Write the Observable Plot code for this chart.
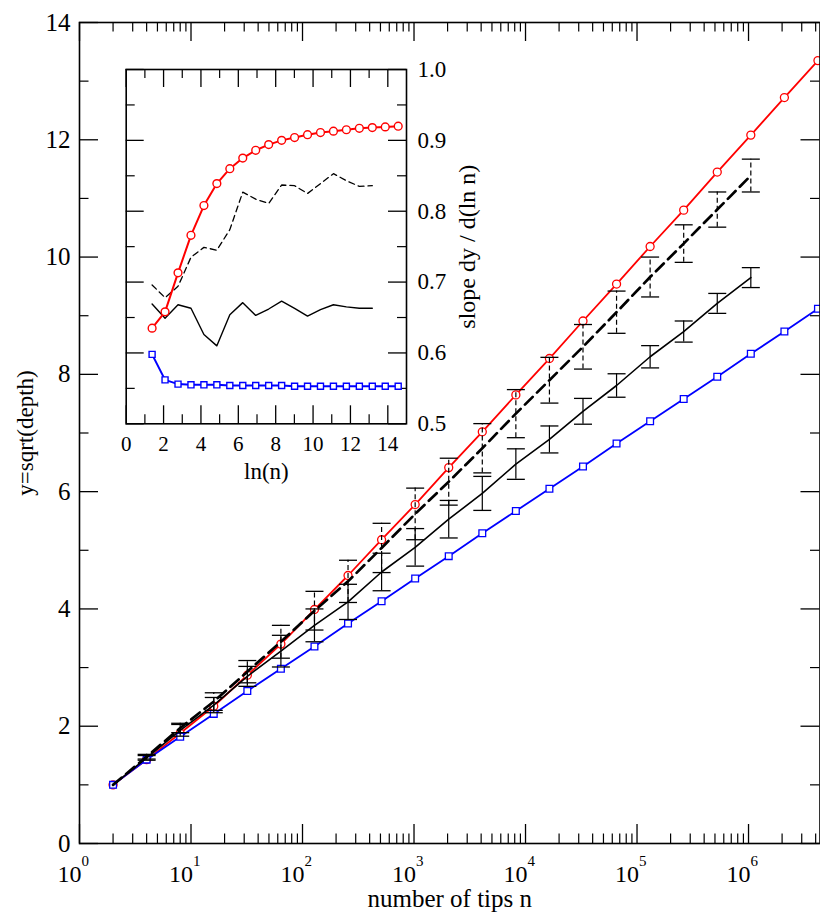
<!DOCTYPE html>
<html><head><meta charset="utf-8">
<script src="https://cdn.jsdelivr.net/npm/d3@7"></script>
<script src="https://cdn.jsdelivr.net/npm/@observablehq/plot@0.6"></script>
<style>
html,body{margin:0;padding:0;background:#fff;}
#wrap{position:relative;width:820px;height:914px;overflow:hidden;background:#fff;}
#inset{position:absolute;left:100px;top:50px;}
</style></head><body>
<div id="wrap"><div id="main"></div><div id="inset"></div></div>
<script>
// ---------- data (main plot) ----------
const nTips = [2,4,8,16,32,64,128,256,512,1024,2048,4096,8192,16384,32768,65536,131072,262144,524288,1048576,2097152,4194304];
const redY  = [1.00,1.43,1.88,2.34,2.87,3.40,3.99,4.57,5.18,5.78,6.41,7.02,7.65,8.27,8.91,9.54,10.18,10.80,11.45,12.08,12.72,13.35];
const blueY = [1.00,1.43,1.82,2.21,2.60,2.98,3.36,3.75,4.13,4.52,4.90,5.29,5.67,6.05,6.43,6.82,7.20,7.58,7.96,8.35,8.73,9.12];
const solidY   = [1.00,1.46,1.93,2.36,2.85,3.28,3.72,4.12,4.63,5.05,5.53,5.97,6.47,6.89,7.37,7.81,8.30,8.73,9.21,9.65];
const solidErr = [0,0.04,0.10,0.13,0.17,0.27,0.28,0.30,0.32,0.32,0.32,0.29,0.26,0.23,0.22,0.20,0.19,0.18,0.17,0.17];
const dashY    = [1.00,1.48,1.97,2.42,2.93,3.44,3.97,4.47,5.04,5.62,6.17,6.74,7.33,7.90,8.47,9.06,9.66,10.23,10.81,11.39];
const dashErr  = [0,0.04,0.08,0.15,0.19,0.28,0.33,0.36,0.42,0.44,0.40,0.42,0.41,0.39,0.38,0.36,0.34,0.32,0.30,0.28];
const xMajor = [1,10,100,1000,10000,100000,1000000];
const xExp = ["0","1","2","3","4","5","6"];
const xMinor = [2,3,4,5,6,7,8,9,20,30,40,50,60,70,80,90,200,300,400,500,600,700,800,900,2e3,3e3,4e3,5e3,6e3,7e3,8e3,9e3,2e4,3e4,4e4,5e4,6e4,7e4,8e4,9e4,2e5,3e5,4e5,5e5,6e5,7e5,8e5,9e5,2e6,3e6,4e6];
const yMajor = [0,2,4,6,8,10,12,14];
const yMinor = [1,3,5,7,9,11,13];
const xMax = 4.375e6;

// ---------- data (inset) ----------
const lnN = [1.386,2.079,2.773,3.466,4.159,4.852,5.545,6.238,6.931,7.625,8.318,9.011,9.704,10.397,11.090,11.783,12.477,13.170,13.863,14.556];
const redSlope  = [0.635,0.658,0.713,0.766,0.808,0.839,0.860,0.875,0.886,0.894,0.900,0.904,0.908,0.911,0.913,0.915,0.917,0.918,0.919,0.920];
const blueSlope = [0.598,0.562,0.556,0.555,0.555,0.555,0.554,0.554,0.554,0.554,0.554,0.553,0.553,0.553,0.553,0.553,0.553,0.553,0.553,0.553];
const solidSlope = [0.669,0.649,0.668,0.663,0.626,0.610,0.654,0.671,0.653,0.662,0.673,0.663,0.652,0.661,0.668,0.665,0.663,0.663];
const dashSlope  = [0.696,0.678,0.694,0.735,0.749,0.745,0.774,0.827,0.817,0.811,0.837,0.836,0.825,0.839,0.853,0.843,0.835,0.836];
const ixMajor = [0,2,4,6,8,10,12,14];
const ixMinor = [1,3,5,7,9,11,13];
const iyMajor = [0.5,0.6,0.7,0.8,0.9,1.0];
const iyMinor = [0.55,0.65,0.75,0.85,0.95];

const FONT = `"Liberation Serif", "Times New Roman", "DejaVu Serif", serif`;
const RED = "#ff0000", BLUE = "#0000ff";

const redRows = nTips.map((n,i)=>({n, y:redY[i]}));
const blueRows = nTips.map((n,i)=>({n, y:blueY[i]}));
const solidRows = solidY.map((y,i)=>({n:nTips[i], y, e:solidErr[i]}));
const dashRows = dashY.map((y,i)=>({n:nTips[i], y, e:dashErr[i]}));
const cap = {draw(ctx){ ctx.moveTo(-9,0); ctx.lineTo(9,0); }};

// main geometry
const ML=79, MR=0.5, MT=22, MB=71, W=820, H=914;
const FW = W-ML-MR, FH = H-MT-MB;
const TL = 19, TS = 9.5;
const T = (o) => ({fontFamily: FONT, fill: "black", ...o});

const main = Plot.plot({
  width: W, height: H,
  marginLeft: ML, marginRight: MR, marginTop: MT, marginBottom: MB,
  style: {fontFamily: FONT, background: "transparent", overflow: "visible", color: "black"},
  x: {type: "log", domain: [1, xMax], axis: null},
  y: {domain: [0, 14], axis: null},
  marks: [
    Plot.tickX(xMajor, {x: d=>d, insetTop: FH-TL, strokeWidth: 1.3}),
    Plot.tickX(xMajor, {x: d=>d, insetBottom: FH-TL, strokeWidth: 1.3}),
    Plot.tickX(xMinor, {x: d=>d, insetTop: FH-TS, strokeWidth: 1.2}),
    Plot.tickX(xMinor, {x: d=>d, insetBottom: FH-TS, strokeWidth: 1.2}),
    Plot.tickY(yMajor, {y: d=>d, insetRight: FW-TL, strokeWidth: 1.3}),
    Plot.tickY(yMajor, {y: d=>d, insetLeft: FW-TL, strokeWidth: 1.3}),
    Plot.tickY(yMinor, {y: d=>d, insetRight: FW-TS, strokeWidth: 1.2}),
    Plot.tickY(yMinor, {y: d=>d, insetLeft: FW-TS, strokeWidth: 1.2}),
    Plot.line(redRows, {x:"n", y:"y", stroke: RED, strokeWidth: 1.8}),
    Plot.dot(redRows, {x:"n", y:"y", r: 4, stroke: RED, fill: "white", strokeWidth: 1.3}),
    Plot.line(blueRows, {x:"n", y:"y", stroke: BLUE, strokeWidth: 1.8}),
    Plot.dot(blueRows, {x:"n", y:"y", symbol: "square", r: 3.8, stroke: BLUE, fill: "white", strokeWidth: 1.3}),
    Plot.line(solidRows, {x:"n", y:"y", stroke: "black", strokeWidth: 1.6}),
    Plot.ruleX(solidRows.filter(d=>d.e>0), {x:"n", y1: d=>d.y-d.e, y2: d=>d.y+d.e, stroke:"black", strokeWidth: 1.2}),
    Plot.dot(solidRows.filter(d=>d.e>0), {x:"n", y: d=>d.y+d.e, symbol: cap, fill:"none", stroke:"black", strokeWidth: 1.3}),
    Plot.dot(solidRows.filter(d=>d.e>0), {x:"n", y: d=>d.y-d.e, symbol: cap, fill:"none", stroke:"black", strokeWidth: 1.3}),
    Plot.line(dashRows, {x:"n", y:"y", stroke: "black", strokeWidth: 2.7, strokeDasharray: "11,6"}),
    Plot.ruleX(dashRows.filter(d=>d.e>0), {x:"n", y1: d=>d.y-d.e, y2: d=>d.y+d.e, stroke:"black", strokeWidth: 1.2, strokeDasharray: "5,3"}),
    Plot.dot(dashRows.filter(d=>d.e>0), {x:"n", y: d=>d.y+d.e, symbol: cap, fill:"none", stroke:"black", strokeWidth: 1.3}),
    Plot.dot(dashRows.filter(d=>d.e>0), {x:"n", y: d=>d.y-d.e, symbol: cap, fill:"none", stroke:"black", strokeWidth: 1.3}),
    Plot.frame({stroke: "black", strokeWidth: 1.6}),
    Plot.text(yMajor, T({y: d=>d, frameAnchor: "left", text: d=>String(d), textAnchor: "end", dx: -9, fontSize: 25})),
    Plot.text(xMajor, T({x: d=>d, frameAnchor: "bottom", text: ()=>"10", textAnchor: "end", lineAnchor: "bottom", dx: 2, dy: 38, fontSize: 24})),
    Plot.text(xMajor, T({x: d=>d, frameAnchor: "bottom", text: (d,i)=>xExp[i], textAnchor: "start", lineAnchor: "bottom", dx: 2, dy: 22, fontSize: 15})),
    Plot.text(["y=sqrt(depth)"], T({frameAnchor: "left", textAnchor: "middle", dx: -54, rotate: -90, fontSize: 23})),
    Plot.text(["number of tips n"], T({frameAnchor: "bottom", textAnchor: "middle", lineAnchor: "bottom", dy: 63, fontSize: 25}))
  ]
});
document.getElementById("main").appendChild(main);

// ---------- inset ----------
const IW=400, IH=450, IL=25.7, IR=94, IT=19, IB=76.7;
const IFW = IW-IL-IR, IFH = IH-IT-IB;
const ITL = 18, ITS = 9;
const rows = (ys) => ys.map((v,i)=>({x: lnN[i], y: v}));
const inset = Plot.plot({
  width: IW, height: IH,
  marginLeft: IL, marginRight: IR, marginTop: IT, marginBottom: IB,
  style: {fontFamily: FONT, background: "transparent", overflow: "visible", color: "black"},
  x: {domain: [0, 15], axis: null},
  y: {domain: [0.5, 1.0], axis: null},
  marks: [
    Plot.frame({fill: "white", stroke: "none"}),
    Plot.tickX(ixMajor, {x: d=>d, insetTop: IFH-ITL, strokeWidth: 1.3}),
    Plot.tickX(ixMajor, {x: d=>d, insetBottom: IFH-ITL, strokeWidth: 1.3}),
    Plot.tickX(ixMinor, {x: d=>d, insetTop: IFH-ITS, strokeWidth: 1.2}),
    Plot.tickX(ixMinor, {x: d=>d, insetBottom: IFH-ITS, strokeWidth: 1.2}),
    Plot.tickY(iyMajor, {y: d=>d, insetRight: IFW-ITL, strokeWidth: 1.3}),
    Plot.tickY(iyMajor, {y: d=>d, insetLeft: IFW-ITL, strokeWidth: 1.3}),
    Plot.tickY(iyMinor, {y: d=>d, insetRight: IFW-ITS, strokeWidth: 1.2}),
    Plot.tickY(iyMinor, {y: d=>d, insetLeft: IFW-ITS, strokeWidth: 1.2}),
    Plot.line(rows(dashSlope), {x:"x", y:"y", stroke:"black", strokeWidth: 1.3, strokeDasharray: "6,4"}),
    Plot.line(rows(solidSlope), {x:"x", y:"y", stroke:"black", strokeWidth: 1.4}),
    Plot.line(rows(redSlope), {x:"x", y:"y", stroke: RED, strokeWidth: 2}),
    Plot.dot(rows(redSlope), {x:"x", y:"y", r: 3.9, stroke: RED, fill: "white", strokeWidth: 1.4}),
    Plot.line(rows(blueSlope), {x:"x", y:"y", stroke: BLUE, strokeWidth: 2}),
    Plot.dot(rows(blueSlope), {x:"x", y:"y", symbol: "square", r: 3.4, stroke: BLUE, fill: "white", strokeWidth: 1.4}),
    Plot.frame({stroke: "black", strokeWidth: 1.6}),
    Plot.text(ixMajor, T({x: d=>d, frameAnchor: "bottom", textAnchor: "middle", text: d=>String(d), lineAnchor: "bottom", dy: 27, fontSize: 21})),
    Plot.text(iyMajor, T({y: d=>d, frameAnchor: "right", text: d=>d.toFixed(1), textAnchor: "start", dx: 11, fontSize: 23})),
    Plot.text(["ln(n)"], T({frameAnchor: "bottom", textAnchor: "middle", lineAnchor: "bottom", dy: 55, fontSize: 23})),
    Plot.text(["slope dy / d(ln n)"], T({frameAnchor: "right", textAnchor: "middle", dx: 61, rotate: -90, fontSize: 24}))
  ]
});
document.getElementById("inset").appendChild(inset);
</script>
</body></html>
